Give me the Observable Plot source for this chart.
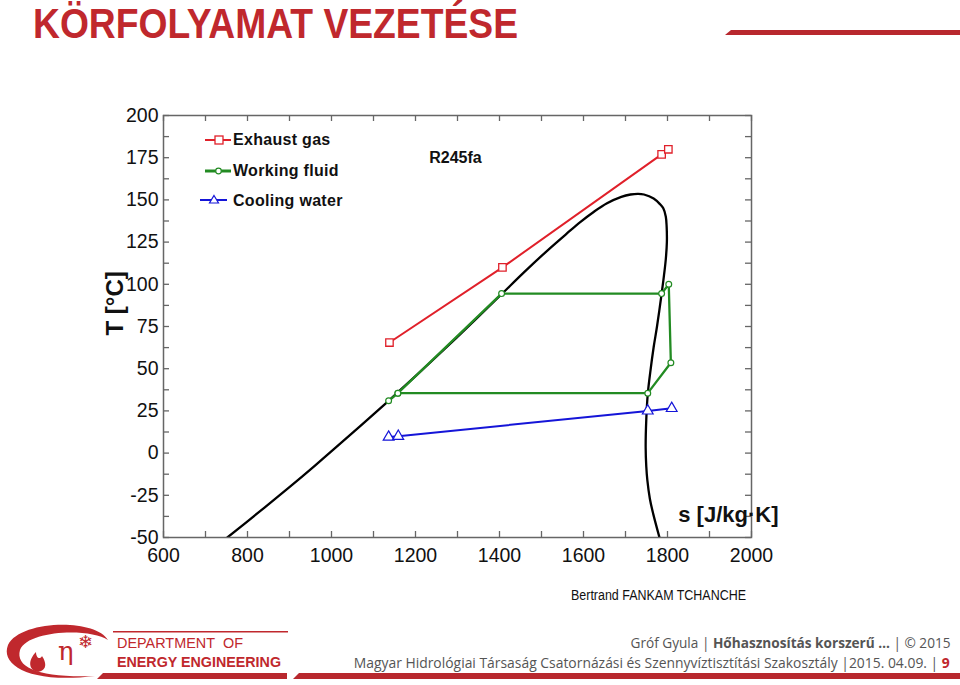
<!DOCTYPE html>
<html>
<head>
<meta charset="utf-8">
<script src="https://cdn.jsdelivr.net/npm/d3@7"></script>
<script src="https://cdn.jsdelivr.net/npm/@observablehq/plot@0.6"></script>
<style>
  html, body { margin:0; padding:0; background:#fff; }
  body { width:960px; height:685px; position:relative; overflow:hidden; font-family:"Liberation Sans", Arial, sans-serif; }
  .abs { position:absolute; white-space:nowrap; }
  #title { left:33px; top:0px; font-family:"Liberation Sans Narrow","Arial Narrow","Liberation Sans",sans-serif; font-weight:bold; font-size:42px; color:#C0282D; transform-origin:0 0; line-height:48px; }
  #chart { position:absolute; left:0; top:0; }
  .leg { font-weight:bold; font-size:16px; color:#111; letter-spacing:0.3px; line-height:20px; }
  .foot { font-family:"Liberation Sans Narrow","Open Sans",sans-serif; color:#555; font-size:15px; transform-origin:100% 0; line-height:18px; }
  #dept { font-family:"Liberation Sans",Arial,sans-serif; color:#C0282D; font-size:15.5px; line-height:19px; }
  #dept span { display:inline-block; transform-origin:0 0; }
</style>
</head>
<body>
<div id="chart"></div>
<div id="title" class="abs">KÖRFOLYAMAT VEZETÉSE</div>
<svg class="abs" style="left:0;top:0" width="960" height="685">
  <polygon points="725,35 731,30 960,30 960,35" fill="#B8282E"/>
  <polygon points="97,679 103,673 287,673 287,679" fill="#B8282E"/>
  <polygon points="293,679 299,673 960,673 960,679" fill="#B8282E"/>
  <rect x="113" y="631" width="175" height="1.5" fill="#C0282D"/>
  <path d="M 108 640 C 95 618, 20 620, 8 645 C 0 665, 30 684, 95 676 C 40 678, 15 668, 20 650 C 28 630, 90 628, 108 640 Z" fill="#C0282D"/>
  <text x="58" y="660" font-size="26" fill="#C0282D" font-family="DejaVu Serif, serif">η</text>
  <text x="78" y="648" font-size="18" fill="#C0282D" font-family="DejaVu Sans, sans-serif">❄</text>
  <path d="M 38 672 C 28 670, 28 660, 36 652 C 36 658, 40 660, 42 656 C 46 662, 48 670, 38 672 Z" fill="#C0282D"/>
</svg>
<div id="legend" class="abs" style="left:0;top:0;">
  <svg class="abs" style="left:0;top:0" width="240" height="215">
    <line x1="205" y1="140" x2="231" y2="140" stroke="#E0202A" stroke-width="2"/>
    <rect x="215" y="136" width="8" height="8" fill="#fff" stroke="#E0202A" stroke-width="1.3"/>
    <line x1="205" y1="171" x2="231" y2="171" stroke="#228B22" stroke-width="3"/>
    <circle cx="218.5" cy="171" r="2.8" fill="#fff" stroke="#228B22" stroke-width="1.2"/>
    <line x1="200" y1="200" x2="227" y2="200" stroke="#1515D8" stroke-width="2"/>
    <polygon points="214,195.5 218.5,203 209.5,203" fill="#fff" stroke="#1515D8" stroke-width="1.2"/>
  </svg>
  <div class="abs leg" style="left:233px;top:130px;">Exhaust gas</div>
  <div class="abs leg" style="left:233px;top:161px;">Working fluid</div>
  <div class="abs leg" style="left:233px;top:191px;">Cooling water</div>
</div>
<div class="abs" style="left:571px;top:587px;font-family:'Liberation Sans Narrow','Liberation Sans',sans-serif;font-size:14px;color:#111;transform-origin:0 0;line-height:17px;" id="author">Bertrand FANKAM TCHANCHE</div>
<div class="abs" id="dept" style="left:117px;top:633px;"><span id="dept1">DEPARTMENT&nbsp; OF</span><br><span id="dept2" style="font-weight:bold;">ENERGY ENGINEERING</span></div>
<div class="abs foot" id="foot1" style="right:10px;top:633px;">Gróf Gyula | <b>Hőhasznosítás korszerű …</b> | © 2015</div>
<div class="abs foot" id="foot2" style="right:10px;top:653px;">Magyar Hidrológiai Társaság Csatornázási és Szennyvíztisztítási Szakosztály |2015. 04.09. | <b style="color:#C0282D">9</b></div>
<script>
// ---- data ----
const satS = [752, 830, 902, 960, 1005, 1069, 1136, 1200, 1270, 1340, 1406, 1460, 1514, 1560, 1593, 1625, 1656, 1690, 1712, 1730, 1744, 1767, 1782, 1790, 1796, 1798, 1798.5, 1796, 1791.5, 1786, 1775, 1767, 1759, 1753, 1749.5, 1748, 1749.5, 1752, 1758, 1766, 1782];
const satT = [-50, -34.4, -19.7, -7.5, 2.2, 16.1, 31, 45.6, 61.8, 78.4, 94.4, 107.5, 120, 130, 137, 143, 148, 151.8, 153.2, 153.6, 153.2, 150.8, 147.5, 145, 140, 134, 125, 115, 105, 94.4, 75, 62.7, 48, 35, 20, 3.5, -8, -16, -27, -36, -51];

const exhS = [1138, 1407, 1786, 1802];
const exhT = [65.5, 110, 177, 180];

const wfS = [1136, 1158, 1405, 1786, 1803, 1808, 1753, 1158];
const wfT = [31, 35.5, 94.5, 94.5, 100, 53.5, 35.5, 35.5];

const cwS = [1136, 1159, 1753, 1810];
const cwT = [9.5, 10, 25, 26.5];

const xTicks = [600, 800, 1000, 1200, 1400, 1600, 1800, 2000];
const xMinor = [600, 700, 800, 900, 1000, 1100, 1200, 1300, 1400, 1500, 1600, 1700, 1800, 1900, 2000];
const yTicks = [-50, -25, 0, 25, 50, 75, 100, 125, 150, 175, 200];
const yMinor = d3.range(-50, 200.01, 12.5);

const toPts = (s, t) => s.map((v, i) => ({s: v, T: t[i]}));
const sat = toPts(satS, satT), exh = toPts(exhS, exhT), wf = toPts(wfS, wfT), cw = toPts(cwS, cwT);

const W = 960, H = 600, mL = 163, mR = 209, mT = 115, mB = 63;
const fw = W - mL - mR, fh = H - mT - mB;

const chart = Plot.plot({
  width: W, height: H,
  marginLeft: mL, marginRight: mR, marginTop: mT, marginBottom: mB,
  style: {fontFamily: "'Liberation Sans', Arial, sans-serif", background: "transparent", overflow: "visible"},
  x: {domain: [600, 2000], label: null},
  y: {domain: [-50, 200], label: null},
  marks: [
    Plot.axisX({ticks: xTicks, tickSize: 0, tickPadding: 11, fontSize: 19.5, fill: "#111", tickFormat: d => String(d), label: null}),
    Plot.axisY({ticks: yTicks, tickSize: 0, tickPadding: 5, fontSize: 19.5, fill: "#111", tickFormat: d => String(d), label: null}),
    Plot.tickX(xMinor, {x: d => d, insetTop: fh - 6, stroke: "#666", strokeWidth: 1.3}),
    Plot.tickX(xMinor, {x: d => d, insetBottom: fh - 6, stroke: "#666", strokeWidth: 1.3}),
    Plot.tickY(yMinor, {y: d => d, insetRight: fw - 6, stroke: "#666", strokeWidth: 1.3}),
    Plot.tickY(yMinor, {y: d => d, insetLeft: fw - 6, stroke: "#666", strokeWidth: 1.3}),
    Plot.line(sat, {x: "s", y: "T", stroke: "#000", strokeWidth: 2.3, curve: "catmull-rom", clip: true}),
    Plot.line(exh, {x: "s", y: "T", stroke: "#E0202A", strokeWidth: 2}),
    Plot.line(wf, {x: "s", y: "T", stroke: "#228B22", strokeWidth: 2.3}),
    Plot.line(cw, {x: "s", y: "T", stroke: "#1515D8", strokeWidth: 2}),
    Plot.dot(exh, {x: "s", y: "T", symbol: "square", r: 4.2, stroke: "#E0202A", fill: "#fff", strokeWidth: 1.3}),
    Plot.dot(wf, {x: "s", y: "T", symbol: "circle", r: 2.9, stroke: "#228B22", fill: "#fff", strokeWidth: 1.2}),
    Plot.dot(cw, {x: "s", y: "T", symbol: "triangle", r: 4, stroke: "#1515D8", fill: "#fff", strokeWidth: 1.2}),
    Plot.frame({stroke: "#666", strokeWidth: 1.5}),
    Plot.text(["T [°C]"], {frameAnchor: "left", dx: -48, dy: 9, rotate: -90, fontSize: 24, fontWeight: "bold", fill: "#111"}),
    Plot.text(["s [J/kg·K]"], {frameAnchor: "bottom-right", dx: 27, dy: -16, textAnchor: "end", fontSize: 22, fontWeight: "bold", fill: "#111"}),
    Plot.text(["R245fa"], {frameAnchor: "top-left", dx: 292, dy: 36, textAnchor: "middle", fontSize: 16, fontWeight: "bold", fill: "#111"})
  ]
});
document.getElementById("chart").appendChild(chart);

// fit text widths to the reference layout
function fit(id, target) {
  const el = document.getElementById(id);
  const w = el.getBoundingClientRect().width;
  if (w > 0) el.style.transform = `scaleX(${target / w})`;
}
fit("title", 485);
fit("foot1", 320);
fit("foot2", 596);
fit("dept1", 126);
fit("dept2", 164);
fit("author", 175);
</script>
</body>
</html>
